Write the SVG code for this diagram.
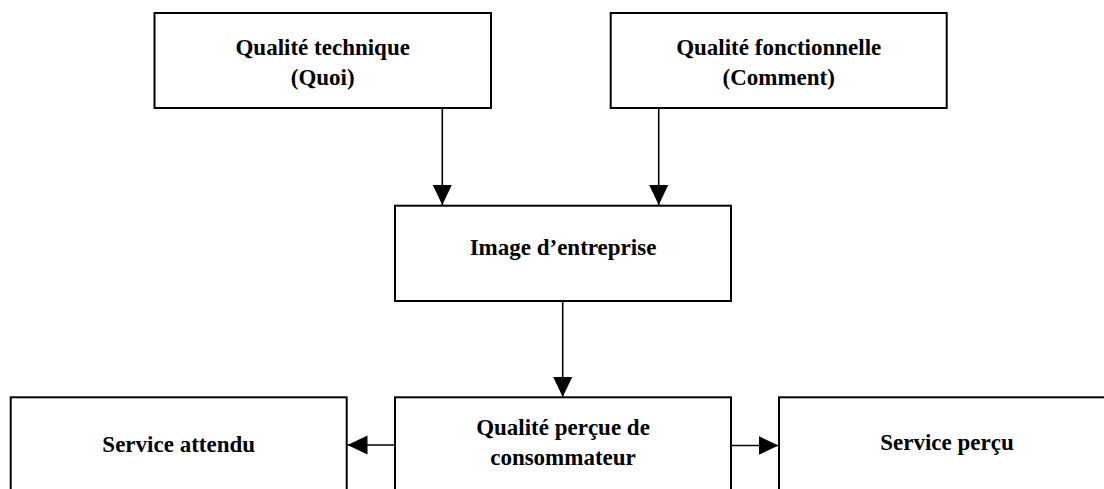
<svg xmlns="http://www.w3.org/2000/svg" width="1104" height="489" viewBox="0 0 1104 489">
<defs>
<style>
.box{fill:#fff;stroke:#000;stroke-width:2}
.lbl{font-family:"Liberation Serif","Times New Roman",serif;font-weight:bold;font-size:23px;fill:#000;text-anchor:middle}
.conn{stroke:#000;stroke-width:1.6;fill:none}
</style>
<marker id="ah" markerUnits="userSpaceOnUse" markerWidth="22" markerHeight="20" refX="20" refY="9.5" orient="auto">
<path d="M0,0 L20,9.5 L0,19 Z" fill="#000"/>
</marker>
</defs>
<rect width="1104" height="489" fill="#fff"/>
<g id="connectors">
<line class="conn" x1="442.3" y1="108" x2="442.3" y2="205" marker-end="url(#ah)"/>
<line class="conn" x1="658.7" y1="108" x2="658.7" y2="205" marker-end="url(#ah)"/>
<line class="conn" x1="562.7" y1="301" x2="562.7" y2="397" marker-end="url(#ah)"/>
<line class="conn" x1="395" y1="445" x2="347.5" y2="445" marker-end="url(#ah)"/>
<line class="conn" x1="731" y1="445.5" x2="778.5" y2="445.5" marker-end="url(#ah)"/>
</g>
<g id="n-technique">
<rect class="box" x="154.5" y="13" width="336.5" height="95"/>
<text class="lbl" x="322.7" y="55">Qualité technique</text>
<text class="lbl" x="322.7" y="85">(Quoi)</text>
</g>
<g id="n-fonctionnelle">
<rect class="box" x="610.7" y="13" width="336" height="95"/>
<text class="lbl" x="778.7" y="55">Qualité fonctionnelle</text>
<text class="lbl" x="778.7" y="85">(Comment)</text>
</g>
<g id="n-image">
<rect class="box" x="395" y="205.7" width="336" height="95.3"/>
<text class="lbl" x="563" y="255">Image d’entreprise</text>
</g>
<g id="n-percue">
<rect class="box" x="395" y="397.3" width="336" height="110"/>
<text class="lbl" x="563" y="435">Qualité perçue de</text>
<text class="lbl" x="563" y="465">consommateur</text>
</g>
<g id="n-attendu">
<rect class="box" x="10.7" y="397.3" width="336" height="110"/>
<text class="lbl" x="178.7" y="451.5">Service attendu</text>
</g>
<g id="n-servpercu">
<rect class="box" x="779" y="397.3" width="336" height="110"/>
<text class="lbl" x="947" y="450">Service perçu</text>
</g>
</svg>
